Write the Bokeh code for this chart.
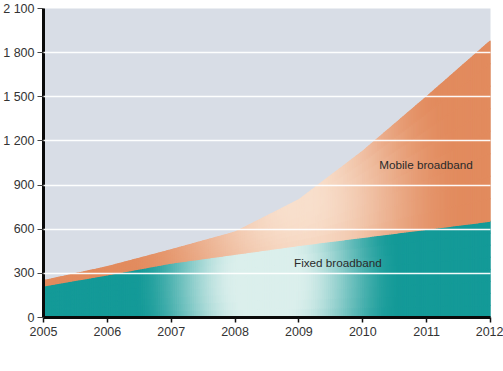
import numpy as np
from bokeh.plotting import figure
from bokeh.models import FixedTicker, Range1d, ColumnDataSource
from bokeh.embed import file_html
from bokeh.resources import INLINE
from bokeh.core.properties import value

# ---- data ----
years = [2005, 2006, 2007, 2008, 2009, 2010, 2011, 2012]
fixed_broadband = [215, 290, 370, 430, 490, 545, 600, 655]
mobile_broadband = [35, 55, 90, 150, 310, 585, 900, 1225]
y_ticks = [0, 300, 600, 900, 1200, 1500, 1800, 2100]
y_tick_labels = ["0", "300", "600", "900", "1 200", "1 500", "1 800", "2 100"]
grid_ticks = [300, 600, 900, 1200, 1500, 1800]
series_names = ["Fixed broadband", "Mobile broadband"]

FONT = "Liberation Sans"
TEAL_DARK = "#149a98"
TEAL_LIGHT = "#dbefec"
ORANGE_DARK = "#e28b5e"
ORANGE_LIGHT = "#f8dfcc"
BG = "#d8dde6"

total = [f + m for f, m in zip(fixed_broadband, mobile_broadband)]

p = figure(width=503, height=371, x_range=Range1d(2005, 2012), y_range=Range1d(0, 2100),
           output_backend="svg", toolbar_location=None,
           min_border_left=41, min_border_right=13, min_border_top=8, min_border_bottom=54)
p.outline_line_color = None
p.background_fill_color = BG
p.border_fill_color = "white"

# base stacked areas drawn straight from the data
p.varea(x=years, y1=[0] * len(years), y2=fixed_broadband, fill_color=TEAL_DARK)
p.varea(x=years, y1=fixed_broadband, y2=total, fill_color=ORANGE_DARK)


# gradient shading of the same areas (thin cells following the stacked lines)
def hexrgb(h):
    return np.array([int(h[i:i + 2], 16) for i in (1, 3, 5)], float)


def mix(c1, c2, t):
    c = hexrgb(c1) + (hexrgb(c2) - hexrgb(c1)) * t
    return "#%02x%02x%02x" % tuple(int(round(v)) for v in np.clip(c, 0, 255))


def smooth(e0, e1, x):
    t = float(np.clip((x - e0) / (e1 - e0), 0, 1))
    return t * t * (3 - 2 * t)


n_strips, n_rows = 210, 8
xs = np.linspace(years[0], years[-1], n_strips + 1)
fb = np.interp(xs, years, fixed_broadband)
tb = np.interp(xs, years, total)
zero = np.zeros_like(xs)


def teal_color(x, y):
    rx = 2.1 if x < 2008.5 else 2.1
    d = np.hypot((x - 2008.5) / rx, (y - 260) / 1300)
    return mix(TEAL_LIGHT, TEAL_DARK, smooth(0.22, 1.0, d))


def orange_color(x, y):
    rx = 2.9 if x < 2009 else 2.6
    d = np.hypot((x - 2009.0) / rx, (y - 800) / 1400)
    return mix(ORANGE_LIGHT, ORANGE_DARK, smooth(0.05, 1.0, d))


def cells(lo, hi, colfn):
    cx, cy, cc = [], [], []
    for i in range(n_strips):
        xa, xb = xs[i], xs[i + 1]
        for j in range(n_rows):
            t0, t1 = j / n_rows, (j + 1) / n_rows
            ya0 = lo[i] + (hi[i] - lo[i]) * t0
            yb0 = lo[i + 1] + (hi[i + 1] - lo[i + 1]) * t0
            ya1 = lo[i] + (hi[i] - lo[i]) * t1
            yb1 = lo[i + 1] + (hi[i + 1] - lo[i + 1]) * t1
            cx.append([xa, xb, xb, xa])
            cy.append([ya0, yb0, yb1, ya1])
            cc.append(colfn((xa + xb) / 2, (ya0 + yb0 + ya1 + yb1) / 4))
    return ColumnDataSource(dict(xs=cx, ys=cy, c=cc))


p.patches(xs="xs", ys="ys", fill_color="c", line_color="c", line_width=1.3,
          source=cells(zero, fb, teal_color))
p.patches(xs="xs", ys="ys", fill_color="c", line_color="c", line_width=1.3,
          source=cells(fb, tb, orange_color))

# labels
p.text(x=[2009.61], y=[374], text=[series_names[0]], text_font=value(FONT),
       text_font_size="11.7px", text_align="center", text_baseline="middle", text_color="#2a2a2a")
p.text(x=[2010.99], y=[1038], text=[series_names[1]], text_font=value(FONT),
       text_font_size="11.7px", text_align="center", text_baseline="middle", text_color="#2a2a2a")

# grid
p.xgrid.visible = False
p.ygrid.ticker = FixedTicker(ticks=grid_ticks)
p.ygrid.grid_line_color = "white"
p.ygrid.grid_line_width = 1.5
p.ygrid.grid_line_alpha = 0.95
p.ygrid.level = "annotation"

# axes
for ax in (p.xaxis, p.yaxis):
    ax.axis_line_width = 3
    ax.axis_line_color = "#0a0a0a"
    ax.major_tick_in = 0
    ax.minor_tick_line_color = None
    ax.major_label_text_font = FONT
    ax.major_label_text_font_size = "12.5px"
    ax.major_label_text_color = "#333333"

p.yaxis.ticker = FixedTicker(ticks=y_ticks)
p.yaxis.major_label_overrides = {t: l for t, l in zip(y_ticks, y_tick_labels)}
p.yaxis.major_tick_out = 6
p.yaxis.major_tick_line_color = "#444444"
p.yaxis.major_tick_line_width = 1.2
p.yaxis.major_label_standoff = 3

p.xaxis.ticker = FixedTicker(ticks=years)
p.xaxis.major_label_overrides = {y: str(y) for y in years}
p.xaxis.major_tick_out = 5
p.xaxis.major_tick_line_color = "#111111"
p.xaxis.major_tick_line_width = 1.5
p.xaxis.major_label_standoff = 4

open("out.html", "w").write(file_html(p, INLINE))
